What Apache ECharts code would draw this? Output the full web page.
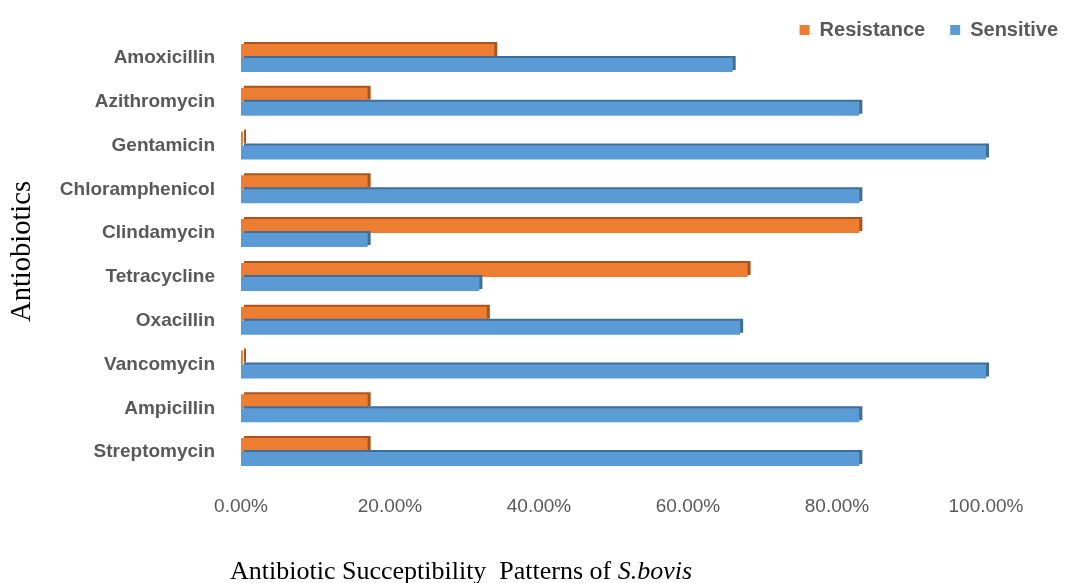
<!DOCTYPE html>
<html>
<head>
<meta charset="utf-8">
<script src="https://cdn.jsdelivr.net/npm/echarts@6/dist/echarts.min.js"></script>
<style>
  html, body { margin: 0; padding: 0; background: #ffffff; }
  #chart { width: 1072px; height: 583px; }
</style>
</head>
<body>
<div id="chart"></div>
<script>
// Antibiotics, listed top to bottom
const antibiotics = ['Amoxicillin', 'Azithromycin', 'Gentamicin', 'Chloramphenicol', 'Clindamycin',
                     'Tetracycline', 'Oxacillin', 'Vancomycin', 'Ampicillin', 'Streptomycin'];
// Percentage of isolates resistant / sensitive to each antibiotic
const resistance = [34, 17, 0, 17, 83, 68, 33, 0, 17, 17];
const sensitive  = [66, 83, 100, 83, 17, 32, 67, 100, 83, 83];
// X axis ticks (percent)
const xTicks = [0, 20, 40, 60, 80, 100];

const labelFont = '"Liberation Sans", Arial, sans-serif';
const serifFont = '"Liberation Serif", "Times New Roman", serif';

const chart = echarts.init(document.getElementById('chart'), null, { renderer: 'canvas' });

chart.setOption({
  animation: false,
  backgroundColor: '#ffffff',
  legend: {
    data: ['Resistance', 'Sensitive'],
    right: 9,
    top: 15,
    itemWidth: 10,
    itemHeight: 10,
    itemGap: 25,
    icon: 'rect',
    textStyle: { color: '#595959', fontSize: 20, fontWeight: 'bold', fontFamily: labelFont, padding: [0, 0, 0, 5] }
  },
  grid: { left: 241, right: 86, top: 36, bottom: 109, containLabel: false },
  xAxis: {
    type: 'value',
    min: xTicks[0],
    max: xTicks[xTicks.length - 1],
    interval: xTicks[1] - xTicks[0],
    axisLine: { show: false },
    axisTick: { show: false },
    splitLine: { show: false },
    axisLabel: {
      color: '#595959', fontSize: 19, fontFamily: labelFont, margin: 23,
      formatter: v => v.toFixed(2) + '%'
    }
  },
  yAxis: {
    type: 'category',
    data: antibiotics,
    inverse: true,
    axisLine: { show: false },
    axisTick: { show: false },
    axisLabel: { color: '#595959', fontSize: 19, fontWeight: 'bold', fontFamily: labelFont, margin: 26 }
  },
  graphic: [
    {
      type: 'text', left: 8, top: 181, rotation: Math.PI / 2,
      style: { text: 'Antiobiotics', font: '28.5px ' + serifFont, fill: '#000000' },
      originX: 0, originY: 0
    },
    {
      type: 'text', left: 230, top: 559,
      style: {
        text: '{n|Antibiotic Succeptibility  Patterns of }{i|S.bovis}',
        rich: {
          n: { font: '26px ' + serifFont, fill: '#000000' },
          i: { font: 'italic 26px ' + serifFont, fill: '#000000' }
        }
      }
    }
  ],
  series: [
    {
      name: 'Resistance', type: 'bar', data: resistance,
      barGap: '0%', barCategoryGap: '36%', barMinHeight: 2,
      itemStyle: { color: '#ED7D31', shadowColor: '#A8541C', shadowOffsetX: 3, shadowOffsetY: -2, shadowBlur: 0 }
    },
    {
      name: 'Sensitive', type: 'bar', data: sensitive,
      barGap: '0%', barCategoryGap: '36%',
      itemStyle: { color: '#5B9BD5', shadowColor: '#3E6E9A', shadowOffsetX: 3, shadowOffsetY: -2, shadowBlur: 0 }
    }
  ]
});
</script>
</body>
</html>
